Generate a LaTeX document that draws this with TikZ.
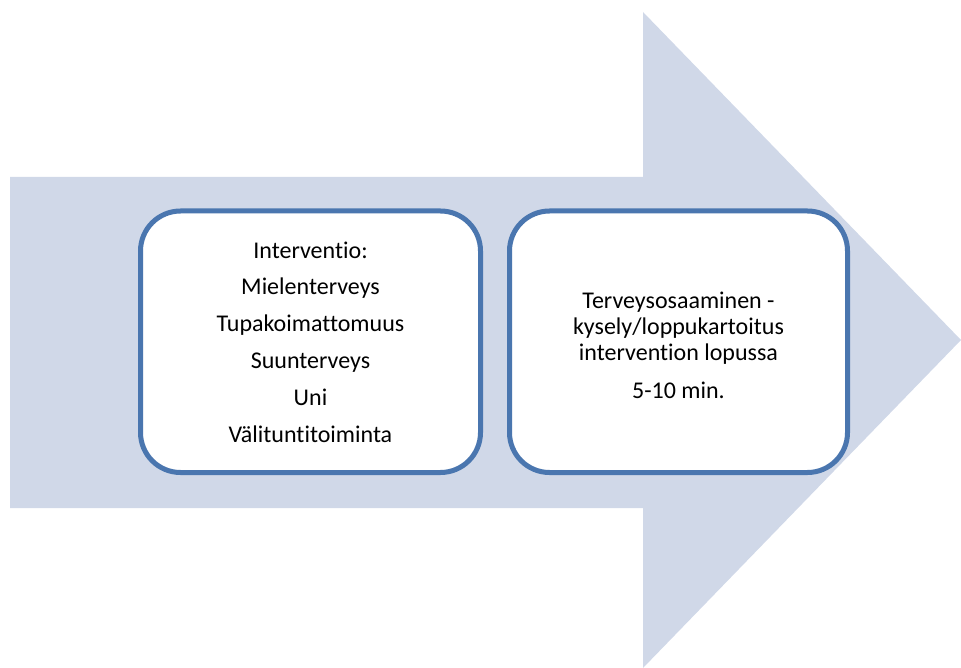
\documentclass[tikz,border=0pt]{standalone}
\usepackage{fontspec}
\setmainfont{Carlito}[RawFeature=-liga]
\definecolor{arrowfill}{HTML}{D0D8E8}
\definecolor{boxline}{HTML}{4A76AF}
\begin{document}
\begin{tikzpicture}[x=1pt,y=-1pt,
  stagebox/.style={draw=boxline, line width=5pt, fill=white, rounded corners=40pt},
  stagetext/.style={align=center, font=\fontsize{24}{26}\selectfont, inner sep=0pt, anchor=base}]
\useasboundingbox (0,0) rectangle (961,668);
% large block arrow in the background
\fill[arrowfill] (10,177) -- (643,177) -- (643,12) -- (961,340) -- (643,668) -- (643,508) -- (10,508) -- cycle;
% the two stages
\draw[stagebox] (140.5,211) rectangle (480.5,472.5);
\draw[stagebox] (509.5,211) rectangle (847.5,472.5);
% base anchor sits on the baseline of the last line
\node[stagetext, font=\fontsize{24}{36.8}\selectfont] (left) at (310.5,442)
  {Interventio:\\Mielenterveys\\Tupakoimattomuus\\Suunterveys\\Uni\\Välituntitoiminta};
\node[stagetext] (right) at (678.5,398)
  {Terveysosaaminen -\\kysely/loppukartoitus\\intervention lopussa\\[12pt]5-10 min.};
\end{tikzpicture}
\end{document}
